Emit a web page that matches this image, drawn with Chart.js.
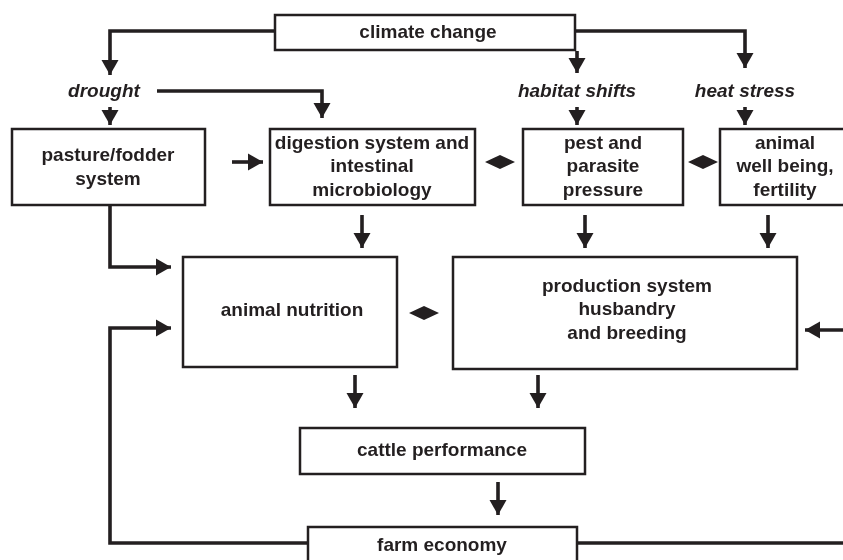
<!DOCTYPE html>
<html>
<head>
<meta charset="utf-8">
<script src="https://cdn.jsdelivr.net/npm/chart.js@4.4.1/dist/chart.umd.min.js"></script>
<style>
  html, body { margin: 0; padding: 0; background: #fff; }
  canvas { display: block; }
</style>
</head>
<body>
<canvas id="diagram" width="843" height="560"></canvas>
<script>
// diagram units: x 0..843 left to right, y 0..560 top to bottom
const boxLabels = [
  ['climate change'],
  ['pasture/fodder', 'system'],
  ['digestion system and', 'intestinal', 'microbiology'],
  ['pest and', 'parasite', 'pressure'],
  ['animal', 'well being,', 'fertility'],
  ['animal nutrition'],
  ['production system', 'husbandry', 'and breeding'],
  ['cattle performance'],
  ['farm economy']
];
const boxLeft   = [275, 12, 270, 523, 720, 183, 453, 300, 308];
const boxRight  = [575, 205, 475, 683, 850, 397, 797, 585, 577];
const boxTop    = [15, 129, 129, 129, 129, 257, 257, 428, 527];
const boxBottom = [50, 205, 205, 205, 205, 367, 369, 474, 566];
const textX     = [428, 108, 372, 603, 785, 292, 627, 442, 442];
const textY     = [33, 168, 167, 167, 167, 311, 310, 451, 546];

const driverLabels = ['drought', 'habitat shifts', 'heat stress'];
const driverX = [104, 577, 745];
const driverY = [92, 92, 92];

// connectors: lists of points, arrowhead at the last point when flagged
const connectors = [
  [[275, 31], [110, 31], [110, 75]],
  [[575, 31], [745, 31], [745, 68]],
  [[577, 51], [577, 73]],
  [[157, 91], [322, 91], [322, 118]],
  [[110, 107], [110, 125]],
  [[577, 107], [577, 125]],
  [[745, 107], [745, 125]],
  [[232, 162], [263, 162]],
  [[362, 215], [362, 248]],
  [[585, 215], [585, 248]],
  [[768, 215], [768, 248]],
  [[110, 205], [110, 267], [171, 267]],
  [[308, 543], [110, 543], [110, 328], [171, 328]],
  [[843, 330], [805, 330]],
  [[355, 375], [355, 408]],
  [[538, 375], [538, 408]],
  [[498, 482], [498, 515]],
  [[577, 543], [843, 543]]
];
const hasArrow = [true, true, true, true, true, true, true, true, true, true, true, true, true, true, true, true, true, false];

// two-way links drawn as diamonds
const linkX = [500, 703, 424];
const linkY = [162, 162, 313];

const ink = '#231f20';

const diagramPlugin = {
  id: 'diagramPlugin',
  afterDatasetsDraw(chart) {
    const { ctx, scales: { x, y } } = chart;
    const px = v => x.getPixelForValue(v);
    const py = v => y.getPixelForValue(v);
    ctx.save();

    // arrowheads
    connectors.forEach((pts, i) => {
      if (!hasArrow[i]) return;
      const a = pts[pts.length - 2], b = pts[pts.length - 1];
      const x1 = px(a[0]), y1 = py(a[1]), x2 = px(b[0]), y2 = py(b[1]);
      const ang = Math.atan2(y2 - y1, x2 - x1);
      const len = 15, half = 8.5;
      ctx.save();
      ctx.translate(x2, y2);
      ctx.rotate(ang);
      ctx.beginPath();
      ctx.moveTo(0, 0);
      ctx.lineTo(-len, -half);
      ctx.lineTo(-len, half);
      ctx.closePath();
      ctx.fillStyle = ink;
      ctx.fill();
      ctx.restore();
    });

    // diamonds
    linkX.forEach((cx, i) => {
      const X = px(cx), Y = py(linkY[i]);
      ctx.beginPath();
      ctx.moveTo(X - 15, Y);
      ctx.lineTo(X, Y - 7);
      ctx.lineTo(X + 15, Y);
      ctx.lineTo(X, Y + 7);
      ctx.closePath();
      ctx.fillStyle = ink;
      ctx.fill();
    });

    // boxes
    ctx.textAlign = 'center';
    ctx.textBaseline = 'middle';
    boxLabels.forEach((lines, i) => {
      const l = px(boxLeft[i]), r = px(boxRight[i]);
      const t = py(boxTop[i]), b = py(boxBottom[i]);
      ctx.fillStyle = '#fff';
      ctx.fillRect(l, t, r - l, b - t);
      ctx.lineWidth = 2.5;
      ctx.strokeStyle = ink;
      ctx.strokeRect(l, t, r - l, b - t);
      ctx.fillStyle = ink;
      ctx.font = 'bold 19px "Liberation Sans", Arial, sans-serif';
      lines.forEach((s, k) => {
        const off = (k - (lines.length - 1) / 2) * 23.5;
        ctx.fillText(s, px(textX[i]), py(textY[i] + off));
      });
    });

    // driver labels
    ctx.font = 'italic bold 19px "Liberation Sans", Arial, sans-serif';
    driverLabels.forEach((s, i) => {
      ctx.fillText(s, px(driverX[i]), py(driverY[i]));
    });

    ctx.restore();
  }
};

new Chart(document.getElementById('diagram'), {
  type: 'scatter',
  data: {
    datasets: connectors.map(pts => ({
      data: pts.map(p => ({ x: p[0], y: p[1] })),
      showLine: true,
      borderColor: ink,
      borderWidth: 3.6,
      borderCapStyle: 'butt',
      borderJoinStyle: 'miter',
      pointRadius: 0,
      tension: 0,
      clip: false
    }))
  },
  options: {
    responsive: false,
    animation: false,
    devicePixelRatio: 1,
    layout: { padding: 0 },
    plugins: { legend: { display: false }, tooltip: { enabled: false } },
    events: [],
    scales: {
      x: { type: 'linear', min: 0, max: 843, display: false },
      y: { type: 'linear', min: 0, max: 560, reverse: true, display: false }
    }
  },
  plugins: [diagramPlugin]
});
</script>
</body>
</html>
